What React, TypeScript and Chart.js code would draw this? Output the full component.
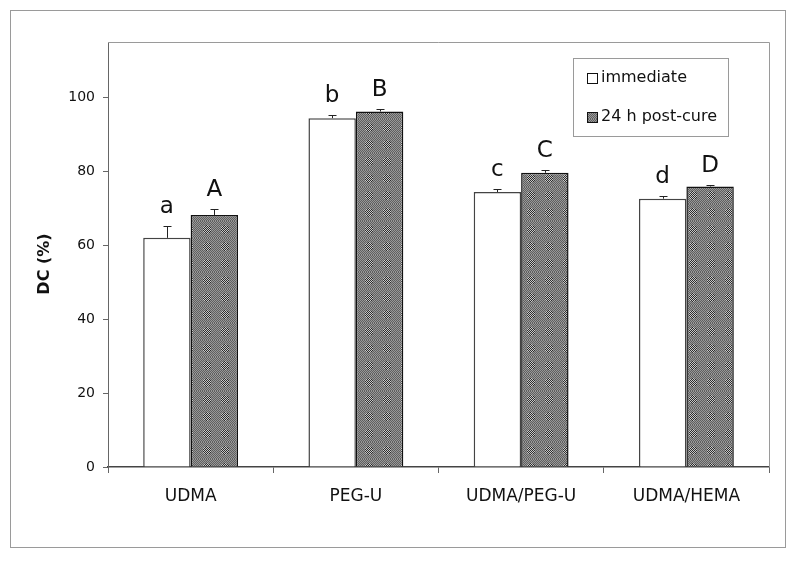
import React, { useEffect, useRef } from "react";
import { Chart, registerables } from "chart.js";

Chart.register(...registerables);

const categories = ["UDMA", "PEG-U", "UDMA/PEG-U", "UDMA/HEMA"];
const immediate = [62, 94.4, 74.4, 72.6];
const immediateErr = [3.3, 0.8, 0.8, 0.6];
const postCure = [68.2, 96.2, 79.6, 75.9];
const postCureErr = [1.7, 0.6, 0.8, 0.4];
const immediateLetters = ["a", "b", "c", "d"];
const postCureLetters = ["A", "B", "C", "D"];
const seriesNames = ["immediate", "24 h post-cure"];
const yTicks = [0, 20, 40, 60, 80, 100];

const FONT = "'DejaVu Sans', Verdana, sans-serif";

function makePattern(): CanvasPattern | string {
  const w = 18;
  const h = 17;
  const c = document.createElement("canvas");
  c.width = w;
  c.height = h;
  const ctx = c.getContext("2d");
  if (!ctx) return "#888";
  const img = ctx.createImageData(w, h);
  const cx = w / 2;
  const cy = h / 2;
  for (let y = 0; y < h; y++) {
    for (let x = 0; x < w; x++) {
      const d = Math.hypot(x + 0.5 - cx, y + 0.5 - cy);
      const on = (x + y) % 2 === 0;
      let v: number;
      if (d < 4.2) v = on ? 0x2c : 0xc8;
      else v = on ? 0x60 : 0x98;
      const i = (y * w + x) * 4;
      img.data[i] = v;
      img.data[i + 1] = v;
      img.data[i + 2] = v;
      img.data[i + 3] = 255;
    }
  }
  ctx.putImageData(img, 0, 0);
  const p = ctx.createPattern(c, "repeat");
  return p || "#888";
}

export default function App() {
  const ref = useRef<HTMLCanvasElement | null>(null);

  useEffect(() => {
    document.body.style.margin = "0";
    const canvas = ref.current;
    if (!canvas) return;
    const pattern = makePattern();

    const overlay = {
      id: "overlay",
      afterDatasetsDraw(chart: any) {
        const ctx = chart.ctx as CanvasRenderingContext2D;
        const ys = chart.scales.y;
        const area = chart.chartArea;
        ctx.save();
        // outer border
        ctx.strokeStyle = "#9a9a9a";
        ctx.lineWidth = 1;
        ctx.strokeRect(10.5, 10.5, 775, 537);
        // plot area top/right border
        ctx.beginPath();
        ctx.moveTo(area.left, area.top + 0.5);
        ctx.lineTo(area.right + 0.5, area.top + 0.5);
        ctx.lineTo(area.right + 0.5, area.bottom);
        ctx.stroke();

        const errs = [immediateErr, postCureErr];
        const vals = [immediate, postCure];
        const letters = [immediateLetters, postCureLetters];
        for (let d = 0; d < 2; d++) {
          const meta = chart.getDatasetMeta(d);
          meta.data.forEach((el: any, i: number) => {
            const x = Math.round(el.x) + 0.5;
            const yTop = ys.getPixelForValue(vals[d][i]);
            const yErr = ys.getPixelForValue(vals[d][i] + errs[d][i]);
            ctx.strokeStyle = "#222";
            ctx.lineWidth = 1;
            ctx.beginPath();
            ctx.moveTo(x, yTop);
            ctx.lineTo(x, Math.round(yErr) + 0.5);
            ctx.moveTo(x - 4, Math.round(yErr) + 0.5);
            ctx.lineTo(x + 4, Math.round(yErr) + 0.5);
            ctx.stroke();
            ctx.fillStyle = "#111";
            ctx.font = `23px ${FONT}`;
            ctx.textAlign = "center";
            ctx.textBaseline = "alphabetic";
            ctx.fillText(letters[d][i], el.x, yErr - 13);
          });
        }

        // legend
        ctx.strokeStyle = "#9a9a9a";
        ctx.lineWidth = 1;
        ctx.fillStyle = "#fff";
        ctx.fillRect(573.5, 58.5, 155, 78);
        ctx.strokeRect(573.5, 58.5, 155, 78);
        const items = [
          { fill: "#fff" as any, y: 78 },
          { fill: pattern as any, y: 117 },
        ];
        items.forEach((it, k) => {
          ctx.fillStyle = it.fill;
          ctx.fillRect(587, it.y - 5, 10, 10);
          ctx.strokeStyle = "#111";
          ctx.strokeRect(587.5, it.y - 4.5, 10, 10);
          ctx.fillStyle = "#111";
          ctx.font = `16px ${FONT}`;
          ctx.textAlign = "left";
          ctx.textBaseline = "middle";
          ctx.fillText(seriesNames[k], 601, it.y);
        });

        // y title
        ctx.translate(45, 264);
        ctx.rotate(-Math.PI / 2);
        ctx.font = `bold 16px ${FONT}`;
        ctx.textAlign = "center";
        ctx.textBaseline = "middle";
        ctx.fillStyle = "#111";
        ctx.fillText("DC (%)", 0, 0);
        ctx.restore();
      },
    };

    const chart = new Chart(canvas, {
      type: "bar",
      data: {
        labels: categories,
        datasets: [
          {
            label: seriesNames[0],
            data: immediate,
            backgroundColor: "#ffffff",
            borderColor: "#444",
            borderWidth: 1.5,
            borderSkipped: "bottom",
            categoryPercentage: 0.574,
            barPercentage: 1,
          },
          {
            label: seriesNames[1],
            data: postCure,
            backgroundColor: pattern as any,
            borderColor: "#111",
            borderWidth: 1.5,
            borderSkipped: "bottom",
            categoryPercentage: 0.574,
            barPercentage: 1,
          },
        ],
      },
      options: {
        responsive: false,
        animation: false,
        layout: { padding: { top: 42, right: 31, left: 0, bottom: 0 } },
        plugins: {
          legend: { display: false },
          tooltip: { enabled: false },
          title: { display: false },
        },
        scales: {
          x: {
            afterFit: (s: any) => {
              s.height = 98;
            },
            grid: {
              offset: true,
              drawOnChartArea: false,
              tickLength: 6,
              color: "#666",
            },
            border: { display: true, color: "#444", width: 1.5 },
            ticks: {
              color: "#111",
              font: { family: FONT, size: 17 },
              padding: 13,
            },
          },
          y: {
            min: 0,
            max: 115,
            afterFit: (s: any) => {
              s.width = 108;
            },
            afterBuildTicks: (s: any) => {
              s.ticks = yTicks.map((v) => ({ value: v }));
            },
            grid: {
              drawOnChartArea: false,
              tickLength: 5,
              color: "#666",
            },
            border: { display: true, color: "#666", width: 1 },
            ticks: {
              color: "#111",
              font: { family: FONT, size: 14 },
              padding: 8,
            },
          },
        },
      },
      plugins: [overlay],
    });
    return () => chart.destroy();
  }, []);

  return (
    <div style={{ width: 800, height: 565 }}>
      <canvas ref={ref} width={800} height={565} style={{ width: 800, height: 565, display: "block" }} />
    </div>
  );
}
